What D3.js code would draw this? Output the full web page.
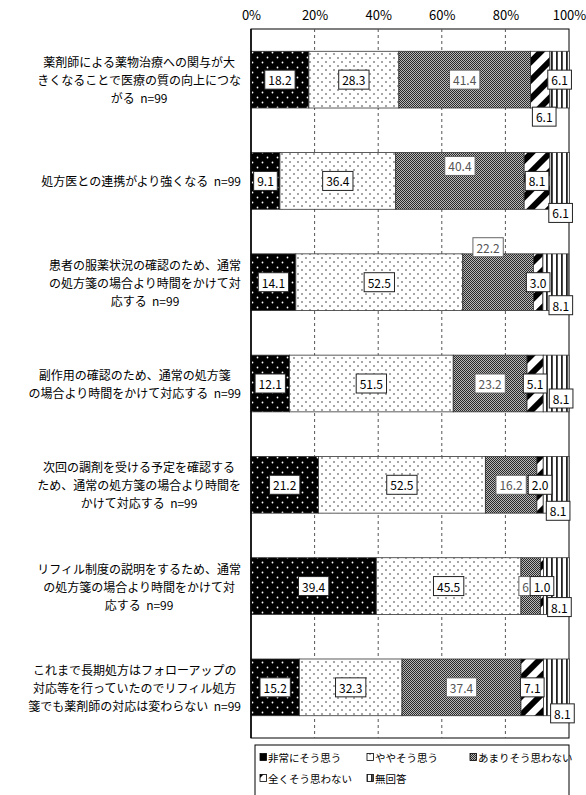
<!DOCTYPE html>
<html><head><meta charset="utf-8">
<script src="https://cdn.jsdelivr.net/npm/d3@7/dist/d3.min.js"></script>
<style>html,body{margin:0;padding:0;background:#fff}</style>
</head><body><svg id="chart" width="586" height="795"></svg>
<script>
const categories = [
  "薬剤師による薬物治療への関与が大\nきくなることで医療の質の向上につな\nがる  n=99",
  "処方医との連携がより強くなる  n=99",
  "患者の服薬状況の確認のため、通常\nの処方箋の場合より時間をかけて対\n応する  n=99",
  "副作用の確認のため、通常の処方箋\nの場合より時間をかけて対応する  n=99",
  "次回の調剤を受ける予定を確認する\nため、通常の処方箋の場合より時間を\nかけて対応する  n=99",
  "リフィル制度の説明をするため、通常\nの処方箋の場合より時間をかけて対\n応する  n=99",
  "これまで長期処方はフォローアップの\n対応等を行っていたのでリフィル処方\n箋でも薬剤師の対応は変わらない  n=99"
];
const seriesNames = ["非常にそう思う", "ややそう思う", "あまりそう思わない", "全くそう思わない", "無回答"];
const stronglyAgree  = [18.2, 9.1, 14.1, 12.1, 21.2, 39.4, 15.2];
const somewhatAgree  = [28.3, 36.4, 52.5, 51.5, 52.5, 45.5, 32.3];
const notMuch        = [41.4, 40.4, 22.2, 23.2, 16.2, 6.1, 37.4];
const notAtAll       = [6.1, 8.1, 3.0, 5.1, 2.0, 1.0, 7.1];
const noAnswer       = [6.1, 6.1, 8.1, 8.1, 8.1, 8.1, 8.1];
const tickValues = [0, 20, 40, 60, 80, 100];

const seriesValues = [stronglyAgree, somewhatAgree, notMuch, notAtAll, noAnswer];

// layout
const FONT = "'Noto Sans CJK JP', 'Noto Sans', sans-serif";
const plot = {left: 251, right: 569, top: 29, bottom: 738};
const labelNudge = {
  "0,3": {dx: 4, dy: 37},
  "1,2": {dx: 0, dy: -15}, "1,4": {dx: 1, dy: 32},
  "2,2": {dx: -10, dy: -35}, "2,4": {dx: 5, dy: 23},
  "3,4": {dx: 5, dy: 15},
  "4,4": {dx: 2, dy: 26},
  "5,4": {dx: 3, dy: 21},
  "6,4": {dx: 6, dy: 26}
};

const svg = d3.select("#chart");
svg.append("rect").attr("width", 586).attr("height", 795).attr("fill", "#fff");

const defs = svg.append("defs");
// pattern 1: black with white dots
let p = defs.append("pattern").attr("id", "pat0").attr("patternUnits", "userSpaceOnUse").attr("width", 10).attr("height", 10);
p.append("rect").attr("width", 10).attr("height", 10).attr("fill", "#000");
p.append("circle").attr("cx", 2.5).attr("cy", 2.5).attr("r", 0.9).attr("fill", "#fff");
p.append("circle").attr("cx", 7.5).attr("cy", 7.5).attr("r", 0.9).attr("fill", "#fff");
// pattern 2: white with small black dots
p = defs.append("pattern").attr("id", "pat1").attr("patternUnits", "userSpaceOnUse").attr("width", 8).attr("height", 8);
p.append("rect").attr("width", 8).attr("height", 8).attr("fill", "#fff");
p.append("circle").attr("cx", 2).attr("cy", 2).attr("r", 0.75).attr("fill", "#222");
p.append("circle").attr("cx", 6).attr("cy", 6).attr("r", 0.75).attr("fill", "#222");
// pattern 3: fine checker grey
p = defs.append("pattern").attr("id", "pat2").attr("patternUnits", "userSpaceOnUse").attr("width", 2).attr("height", 2);
p.append("rect").attr("width", 2).attr("height", 2).attr("fill", "#b8b8b8");
p.append("rect").attr("x", 0).attr("y", 0).attr("width", 1).attr("height", 1).attr("fill", "#2a2a2a");
p.append("rect").attr("x", 1).attr("y", 1).attr("width", 1).attr("height", 1).attr("fill", "#2a2a2a");
// pattern 4: wide upward diagonal
p = defs.append("pattern").attr("id", "pat3").attr("patternUnits", "userSpaceOnUse").attr("width", 13).attr("height", 13).attr("patternTransform", "rotate(45)");
p.append("rect").attr("width", 13).attr("height", 13).attr("fill", "#fff");
p.append("rect").attr("width", 6).attr("height", 13).attr("fill", "#000");
// pattern 5: vertical stripes
p = defs.append("pattern").attr("id", "pat4").attr("patternUnits", "userSpaceOnUse").attr("width", 5).attr("height", 5);
p.append("rect").attr("width", 5).attr("height", 5).attr("fill", "#fff");
p.append("rect").attr("x", 1).attr("width", 1.8).attr("height", 5).attr("fill", "#222");

const x = d3.scaleLinear().domain([0, 100]).range([plot.left, plot.right]);
const y = d3.scaleBand().domain(d3.range(categories.length)).range([plot.top, plot.bottom]).paddingInner(0.44).paddingOuter(0.22);

// plot frame
svg.append("rect").attr("x", plot.left).attr("y", plot.top).attr("width", plot.right - plot.left).attr("height", plot.bottom - plot.top)
  .attr("fill", "none").attr("stroke", "#000").attr("stroke-width", 1);

// gridlines
svg.append("g").selectAll("line").data(tickValues.filter(t => t > 0 && t < 100)).join("line")
  .attr("x1", d => x(d)).attr("x2", d => x(d)).attr("y1", plot.top).attr("y2", plot.bottom)
  .attr("stroke", "#555").attr("stroke-width", 1).attr("stroke-dasharray", "3,3");

// top axis tick labels
const ax = svg.append("g").attr("transform", `translate(0,${plot.top})`)
  .call(d3.axisTop(x).tickValues(tickValues).tickFormat(d => d + "%").tickSize(0).tickPadding(9));
ax.select(".domain").remove();
ax.selectAll("text").attr("font-family", FONT).attr("font-size", 13).attr("fill", "#000");

// stacked data
const stacked = categories.map((c, i) => {
  let acc = 0;
  return seriesValues.map((vals, k) => {
    const v = vals[i];
    const r = {row: i, k, v, x0: acc, x1: acc + v};
    acc += v;
    return r;
  });
});

const bars = svg.append("g");
stacked.forEach(row => {
  bars.selectAll(null).data(row).join("rect")
    .attr("x", d => x(d.x0)).attr("width", d => x(d.x1) - x(d.x0))
    .attr("y", d => y(d.row)).attr("height", y.bandwidth())
    .attr("fill", d => `url(#pat${d.k})`)
    .attr("stroke", "#333").attr("stroke-width", 0.8);
});

// left axis line
svg.append("line").attr("x1", plot.left).attr("x2", plot.left).attr("y1", plot.top).attr("y2", plot.bottom)
  .attr("stroke", "#000").attr("stroke-width", 1.5);

// data labels
const lbl = svg.append("g");
stacked.forEach(row => {
  row.forEach(d => {
    const n = labelNudge[d.row + "," + d.k] || {dx: 0, dy: 0};
    const cx = x((d.x0 + d.x1) / 2) + n.dx;
    const cy = y(d.row) + y.bandwidth() / 2 + n.dy;
    const g = lbl.append("g");
    const box = g.append("rect");
    const t = g.append("text").attr("x", cx).attr("y", cy).attr("text-anchor", "middle")
      .attr("dominant-baseline", "central").attr("font-family", FONT).attr("font-size", 12)
      .attr("fill", d.k === 2 ? "#555" : "#000").text(d.v.toFixed(1));
    const w = t.node().getComputedTextLength() + 7;
    const h = 19;
    box.attr("x", cx - w / 2).attr("y", cy - h / 2).attr("width", w).attr("height", h)
      .attr("fill", "#fff").attr("stroke", d.k === 2 ? "#666" : "#222").attr("stroke-width", 1);
  });
});

// category labels
const lineH = 18;
const cl = svg.append("g");
categories.forEach((c, i) => {
  const lines = c.split("\n");
  const cy = y(i) + y.bandwidth() / 2;
  const t = cl.append("text").attr("font-family", FONT).attr("font-size", 12).attr("fill", "#000")
    .attr("text-anchor", "middle").style("white-space", "pre");
  const spans = lines.map((ln, j) => t.append("tspan").attr("y", cy + (j - (lines.length - 1) / 2) * lineH)
    .attr("dominant-baseline", "central").text(ln));
  const maxW = d3.max(spans, s => s.node().getComputedTextLength());
  const cx = 241 - maxW / 2;
  spans.forEach(s => s.attr("x", cx));
});

// legend
const leg = svg.append("g");
leg.append("rect").attr("x", 255).attr("y", 745).attr("width", 314).attr("height", 70)
  .attr("fill", "#fff").attr("stroke", "#000").attr("stroke-width", 1);
const legPos = [[260, 757], [367, 757], [470, 757], [260, 778], [367, 778]];
seriesNames.forEach((name, k) => {
  const [lx, ly] = legPos[k];
  leg.append("rect").attr("x", lx).attr("y", ly - 3.5).attr("width", 6.5).attr("height", 7)
    .attr("fill", `url(#pat${k})`).attr("stroke", "#000").attr("stroke-width", 0.8);
  leg.append("text").attr("x", lx + 8).attr("y", ly).attr("dominant-baseline", "central")
    .attr("font-family", FONT).attr("font-size", 10.5).attr("fill", "#000").text(name);
});
</script></body></html>
